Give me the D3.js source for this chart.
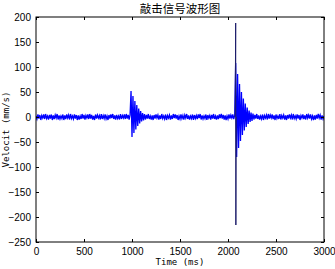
<!DOCTYPE html>
<html>
<head>
<meta charset="utf-8">
<script src="https://cdn.jsdelivr.net/npm/d3@7"></script>
<style>
body { margin: 0; background: #fff; }
.tick text { font-family: "Liberation Sans Narrow", "Liberation Sans", sans-serif; font-size: 10px; fill: #000; }
</style>
</head>
<body>
<div id="the_chart"></div>
<script>
var sampleStep = 10; // ms between samples

var noiseA = [2,-4,5,-3,4,-6,3,-2,5,-4,
    6,-3,2,-5,4,-3,5,-6,3,-4,
    4,-2,6,-5,3,-4,2,-3,5,-6,
    3,-4,5,-2,4,-5,6,-3,2,-4,
    5,-3,4,-6,3,-5,2,-4,6,-3,
    4,-5,3,-2,5,-4,6,-3,4,-5,
    2,-6,5,-3,4,-2,3,-5,6,-4,
    3,-3,5,-4,2,-6,4,-3,5,-2,
    6,-4,3,-5,4,-3,2,-5,6,-4,
    3,-2,5,-4,6,-3,4,-5];
var burst1 = [4,52,-40,42,-32,32,-25,24,-18,17,-13,12,-9,8,-7,6];
var noiseB = [-5,4,-3,6,-4,2,-5,3,-6,4,
    -3,5,-2,4,-5,3,-4,6,-3,2,
    -4,5,-6,3,-2,4,-5,3,-4,6,
    -2,5,-3,4,-6,2,-4,5,-3,3,
    -5,4,-2,6,-4,3,-5,2,-3,5,
    -6,4,-3,3,-4,5,-2,6,-5,3,
    -4,2,-3,5,-6,4,-2,3,-5,4,
    -3,6,-4,2,-5,3,-4,5,-2,6,
    -3,4,-5,3,-6,2,-4,5,-3,4,
    -2,5,-4];
var burst2 = [3,108,-80,86,-62,66,-48,50,-36,37,-27,27,-20,19,-14,13,-10,9,-8,7];
var noiseC = [-5,4,-3,6,-4,3,-5,2,-4,5,
    -6,3,-2,4,-5,6,-3,4,-2,5,
    -4,3,-6,5,-3,2,-4,6,-5,3,
    -2,4,-5,3,-6,4,-3,5,-2,4,
    -5,6,-3,2,-4,5,-3,4,-6,3,
    -2,5,-4,3,-5,6,-2,4,-3,5,
    -4,2,-6,3,-5,4,-3,6,-2,4,
    -5,3,-4,2];

var spikeTime = [2075, 2080, 2082, 2085];
var spikeVel = [0, 188, -216, 0];

var xTicks = [0, 500, 1000, 1500, 2000, 2500, 3000];
var yTicks = [-250, -200, -150, -100, -50, 0, 50, 100, 150, 200];

var velocity = noiseA.concat(burst1, noiseB, burst2, noiseC);

var w = 335, h = 269;
var padL = 36, padR = 324, padT = 17, padB = 242;

var svg = d3.select("#the_chart")
    .append("svg")
    .attr("width", w)
    .attr("height", h);

var xscale = d3.scaleLinear().domain([0, 3000]).range([padL, padR]);
var yscale = d3.scaleLinear().domain([-250, 200]).range([padB, padT]);

svg.append("clipPath").attr("id", "clip")
    .append("rect")
    .attr("x", padL).attr("y", padT)
    .attr("width", padR - padL).attr("height", padB - padT);

var line = d3.line()
    .x(function (d, i) { return xscale(i * sampleStep); })
    .y(function (d) { return yscale(d); });

svg.append("path")
    .datum(velocity)
    .attr("clip-path", "url(#clip)")
    .attr("fill", "none")
    .attr("stroke", "#0000ff")
    .attr("stroke-width", 1.3)
    .attr("d", line);

svg.append("path")
    .datum(spikeTime)
    .attr("fill", "none")
    .attr("stroke", "#1c1c6a")
    .attr("stroke-width", 1)
    .attr("d", d3.line()
        .x(function (d) { return xscale(d); })
        .y(function (d, i) { return yscale(spikeVel[i]); }));

// axes, MATLAB style: ticks inside on all four sides
svg.append("g")
    .attr("transform", "translate(0," + padB + ")")
    .call(d3.axisBottom(xscale).tickValues(xTicks).tickFormat(d3.format("d")).tickSize(-3).tickPadding(6).tickSizeOuter(0))
    .call(function (g) { g.select(".domain").remove(); });

svg.append("g")
    .attr("transform", "translate(0," + padT + ")")
    .call(d3.axisTop(xscale).tickValues(xTicks).tickSize(-3).tickFormat("").tickSizeOuter(0))
    .call(function (g) { g.select(".domain").remove(); });

svg.append("g")
    .attr("transform", "translate(" + padL + ",0)")
    .call(d3.axisLeft(yscale).tickValues(yTicks).tickSize(-3).tickPadding(5).tickSizeOuter(0))
    .call(function (g) { g.select(".domain").remove(); });

svg.append("g")
    .attr("transform", "translate(" + padR + ",0)")
    .call(d3.axisRight(yscale).tickValues(yTicks).tickSize(-3).tickFormat("").tickSizeOuter(0))
    .call(function (g) { g.select(".domain").remove(); });

svg.append("rect")
    .attr("x", padL).attr("y", padT)
    .attr("width", padR - padL).attr("height", padB - padT)
    .attr("fill", "none")
    .attr("stroke", "#000")
    .attr("stroke-width", 1);

svg.append("text")
    .attr("x", 180).attr("y", 13)
    .attr("text-anchor", "middle")
    .style("font-family", "Noto Sans CJK SC")
    .style("font-size", "11.5px")
    .text("敲击信号波形图");

svg.append("text")
    .attr("x", 180).attr("y", 265)
    .attr("text-anchor", "middle")
    .style("font-family", "DejaVu Sans Mono")
    .style("font-size", "9px")
    .text("Time (ms)");

svg.append("text")
    .attr("transform", "translate(9," + ((padT + padB) / 2) + ") rotate(-90)")
    .attr("text-anchor", "middle")
    .style("font-family", "DejaVu Sans Mono")
    .style("font-size", "9px")
    .text("Velocit (mm/s)");
</script>
</body>
</html>
